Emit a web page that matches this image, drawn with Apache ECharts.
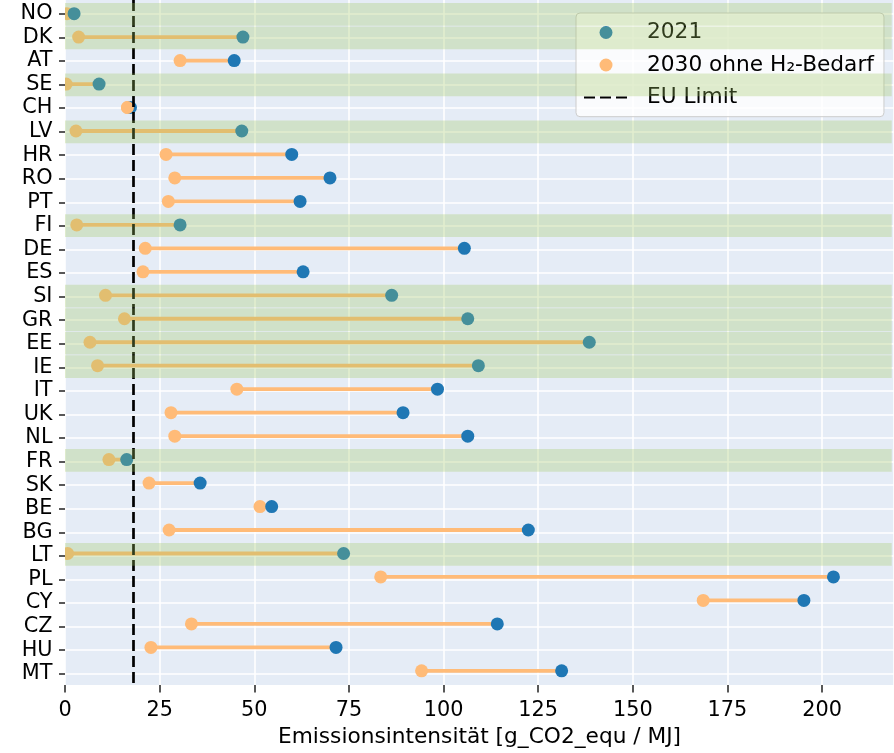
<!DOCTYPE html>
<html>
<head>
<meta charset="utf-8">
<title>Emissionsintensität 2021 / 2030</title>
<script src="https://cdn.jsdelivr.net/npm/echarts/dist/echarts.min.js"></script>
<style>
  html, body { margin: 0; padding: 0; background: #ffffff; }
  #chart { width: 894px; height: 753px; }
</style>
</head>
<body>
<div id="chart"></div>
<script>
// Countries, top to bottom
const countries = ['NO', 'DK', 'AT', 'SE', 'CH', 'LV', 'HR', 'RO', 'PT', 'FI',
  'DE', 'ES', 'SI', 'GR', 'EE', 'IE', 'IT', 'UK', 'NL', 'FR',
  'SK', 'BE', 'BG', 'LT', 'PL', 'CY', 'CZ', 'HU', 'MT'];

// Emission intensity 2021 [g CO2-eq / MJ]
const emissions2021 = [2.4, 47.0, 44.7, 9.0, 17.3, 46.7, 59.9, 70.0, 62.1, 30.4,
  105.5, 62.9, 86.3, 106.4, 138.5, 109.2, 98.4, 89.3, 106.4, 16.3,
  35.7, 54.6, 122.4, 73.6, 203.0, 195.2, 114.2, 71.6, 131.2];

// Emission intensity 2030 without hydrogen demand [g CO2-eq / MJ]
const emissions2030 = [0.5, 3.6, 30.4, 0.3, 16.5, 2.9, 26.7, 29.0, 27.3, 3.1,
  21.2, 20.6, 10.7, 15.7, 6.6, 8.6, 45.4, 28.0, 29.0, 11.6,
  22.2, 51.5, 27.5, 0.7, 83.4, 168.6, 33.4, 22.7, 94.2];

// EU limit value
const euLimit = 18;

// EU member states that reach the limit by 2030 (shaded rows)
const belowLimitRows = ['NO', 'DK', 'SE', 'LV', 'FI', 'SI', 'GR', 'EE', 'IE', 'FR', 'LT'];

// Rows where the 2030 marker sits above the 2021 marker
const markers2030OnTop = ['CH'];

const NAME_2021 = '2021';
const NAME_2030 = '2030 ohne H\u2082-Bedarf';
const NAME_LIMIT = 'EU Limit';

const FONT = 'DejaVu Sans';
const C2021 = '#1f77b4';
const C2030 = '#ffbb78';
const X_MAX = 219;
// rows span -0.58 .. 28.61 on the plot's value axis
const Y_MIN = -0.581;
const Y_MAX = 28.607;

const rowIndex = countries.map((c, i) => i);

function renderStem(params, api) {
  const y = api.value(2);
  const a = api.coord([api.value(0), y]);
  const b = api.coord([api.value(1), y]);
  return {
    type: 'line',
    shape: { x1: a[0], y1: a[1], x2: b[0], y2: b[1] },
    style: { stroke: C2030, lineWidth: 3.8 }
  };
}

function renderDot(params, api) {
  const p = api.coord([api.value(0), api.value(1)]);
  return {
    type: 'circle',
    shape: { cx: p[0], cy: p[1], r: 6.5 },
    style: { fill: api.visual('color') }
  };
}

const bands = belowLimitRows.map(c => {
  const i = countries.indexOf(c);
  return [{ xAxis: 0, yAxis: i - 0.45 }, { xAxis: 218.4, yAxis: i + 0.52 }];
});

const chart = echarts.init(document.getElementById('chart'), null, { renderer: 'canvas' });

chart.setOption({
  animation: false,
  textStyle: { fontFamily: FONT },
  grid: [
    { left: 65, top: 0, width: 829.4, height: 688, show: true,
      backgroundColor: '#e5ecf6', borderWidth: 0 },
    { left: 65, top: 13.7, width: 829.4, height: 660 }
  ],
  xAxis: [
    {
      gridIndex: 0, type: 'value', min: 0, max: X_MAX, interval: 25,
      position: 'bottom',
      axisLine: { show: false, onZero: false },
      axisTick: { show: true, length: 7.5, lineStyle: { color: '#222', width: 1.5 } },
      axisLabel: { show: true, margin: 15, fontSize: 20.8, color: '#000',
        fontFamily: FONT, showMaxLabel: false },
      splitLine: { show: true, lineStyle: { color: '#ffffff', width: 1.6 } },
      name: 'Emissionsintensität [g_CO2_equ / MJ]',
      nameLocation: 'middle', nameGap: 40,
      nameTextStyle: { fontSize: 21.7, color: '#000', fontFamily: FONT }
    },
    { gridIndex: 1, type: 'value', min: 0, max: X_MAX, show: false }
  ],
  yAxis: [
    { gridIndex: 0, type: 'value', min: Y_MIN, max: Y_MAX, inverse: true, show: false },
    {
      gridIndex: 1, type: 'category', data: countries, inverse: true, boundaryGap: false,
      axisLine: { show: false, onZero: false },
      axisTick: { show: true, interval: 0, length: 6, lineStyle: { color: '#222', width: 1.5 } },
      axisLabel: { interval: 0, margin: 12.5, fontSize: 20.8, color: '#000', fontFamily: FONT },
      splitLine: { show: true, interval: 0, lineStyle: { color: '#ffffff', width: 1.6 } }
    }
  ],
  legend: {
    orient: 'vertical',
    left: 576, top: 13,
    z: 10,
    padding: [8.5, 10, 8.2, 7],
    itemWidth: 44, itemHeight: 13, itemGap: 10.5,
    backgroundColor: 'rgba(255,255,255,0.8)',
    borderColor: '#cccccc', borderWidth: 1, borderRadius: 4,
    textStyle: { fontSize: 21.7, lineHeight: 22, color: '#000', fontFamily: FONT,
      padding: [0, 0, 0, 14] },
    data: [
      { name: NAME_2021, icon: 'circle' },
      { name: NAME_2030, icon: 'circle' },
      { name: NAME_LIMIT, itemStyle: { color: 'rgba(0,0,0,0)', opacity: 0, borderWidth: 0 } }
    ]
  },
  series: [
    {
      type: 'custom', name: 'stems',
      xAxisIndex: 0, yAxisIndex: 0, clip: true, z: 2, silent: true,
      renderItem: renderStem,
      encode: { x: [0, 1], y: 2 },
      data: rowIndex.map(i => [emissions2030[i], emissions2021[i], i])
    },
    {
      type: 'custom', name: NAME_2030,
      xAxisIndex: 0, yAxisIndex: 0, clip: true, z: 3, silent: true,
      itemStyle: { color: C2030 },
      renderItem: renderDot,
      encode: { x: 0, y: 1 },
      data: rowIndex.map(i => [emissions2030[i], i])
    },
    {
      type: 'custom', name: NAME_2021,
      xAxisIndex: 0, yAxisIndex: 0, clip: true, z: 4, silent: true,
      itemStyle: { color: C2021 },
      renderItem: renderDot,
      encode: { x: 0, y: 1 },
      data: rowIndex.map(i => [emissions2021[i], i])
    },
    {
      type: 'custom', name: NAME_2030,
      xAxisIndex: 0, yAxisIndex: 0, clip: true, z: 5, silent: true,
      itemStyle: { color: C2030 },
      renderItem: renderDot,
      encode: { x: 0, y: 1 },
      data: rowIndex.filter(i => markers2030OnTop.includes(countries[i]))
        .map(i => [emissions2030[i], i])
    },
    {
      type: 'line', name: NAME_LIMIT,
      xAxisIndex: 0, yAxisIndex: 0, z: 8,
      symbol: 'none', showSymbol: false, data: [],
      lineStyle: { color: '#000', width: 2.7, type: [11, 5] },
      itemStyle: { color: '#000' },
      markLine: {
        z: 8, silent: true, symbol: 'none',
        label: { show: false },
        lineStyle: { color: '#000', width: 2.7, type: [11, 5] },
        data: [{ xAxis: euLimit }]
      }
    },
    {
      type: 'line', name: 'rows',
      xAxisIndex: 0, yAxisIndex: 0, z: 20, data: [],
      markArea: {
        z: 20, silent: true,
        label: { show: false },
        itemStyle: { color: 'rgba(159,199,96,0.3)', borderWidth: 0 },
        data: bands
      }
    }
  ]
});
</script>
</body>
</html>
